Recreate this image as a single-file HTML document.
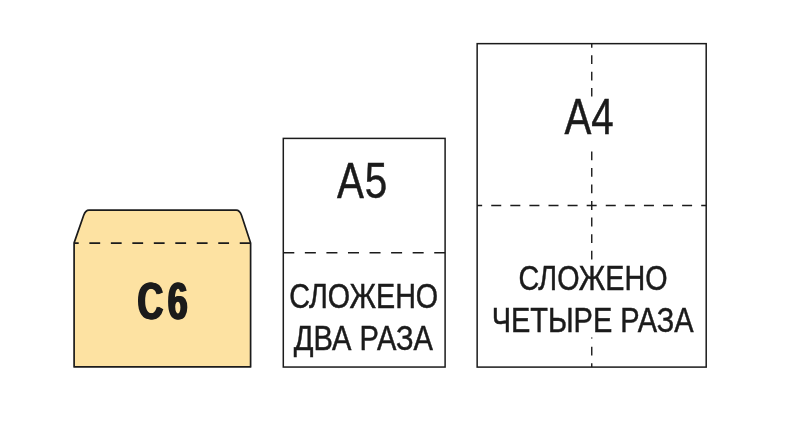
<!DOCTYPE html>
<html lang="ru">
<head>
<meta charset="utf-8">
<title>C6 / A5 / A4</title>
<style>
html,body{margin:0;padding:0;background:#fff;}
body{width:800px;height:431px;overflow:hidden;}
svg{display:block;}
text{font-family:"Liberation Sans",sans-serif;fill:#1b1b1b;}
.ln{fill:none;stroke:#1b1b1b;}
</style>
</head>
<body>
<svg width="800" height="431" viewBox="0 0 800 431">
<defs>
<filter id="f-c6" x="-10%" y="-20%" width="120%" height="140%" color-interpolation-filters="sRGB"><feOffset in="SourceGraphic" dx="-0.75" dy="0.2" result="a"/><feOffset in="SourceGraphic" dx="0.75" dy="0.2" result="b"/><feOffset in="SourceGraphic" dx="0" dy="0.2" result="c"/><feMerge><feMergeNode in="a"/><feMergeNode in="b"/><feMergeNode in="c"/></feMerge></filter>
<filter id="f-a5" x="-10%" y="-20%" width="120%" height="140%" color-interpolation-filters="sRGB"><feOffset in="SourceGraphic" dx="0" dy="-0.35"/></filter>
<filter id="f-a5l1" x="-10%" y="-20%" width="120%" height="140%" color-interpolation-filters="sRGB"><feOffset in="SourceGraphic" dx="0" dy="0.25"/></filter>
<filter id="f-a5l2" x="-10%" y="-20%" width="120%" height="140%" color-interpolation-filters="sRGB"><feOffset in="SourceGraphic" dx="0" dy="-0.25"/></filter>
<filter id="f-a4" x="-10%" y="-20%" width="120%" height="140%" color-interpolation-filters="sRGB"><feOffset in="SourceGraphic" dx="0" dy="0.1"/></filter>
<filter id="f-a4l1" x="-10%" y="-20%" width="120%" height="140%" color-interpolation-filters="sRGB"><feOffset in="SourceGraphic" dx="0" dy="0"/></filter>
<filter id="f-a4l2" x="-10%" y="-20%" width="120%" height="140%" color-interpolation-filters="sRGB"><feOffset in="SourceGraphic" dx="0" dy="-0.45"/></filter>
</defs>
<rect width="800" height="431" fill="#ffffff"/>

<!-- C6 envelope -->
<g id="c6">
<path d="M74.1 366.9 L74.1 242.9 L83.6 215.5 Q85.5 210.1 89 210.1 L236.2 210.1 Q239.7 210.1 241.5 215.3 L250.6 242.9 L250.6 366.9 Z" fill="#fde2a2" stroke="#1b1b1b" stroke-width="1.7" stroke-linejoin="round"/>
<line class="ln" x1="74.1" y1="243.05" x2="250.6" y2="243.05" stroke-width="1.7" stroke-dasharray="10.8 10.68" stroke-dashoffset="6.2"/>
<g filter="url(#f-c6)"><text transform="translate(137.55 319) scale(0.7 1)" font-size="51.1" font-weight="700" letter-spacing="6.4">C6</text></g>
</g>

<!-- A5 sheet -->
<g id="a5">
<rect class="ln" x="283.3" y="138.4" width="161.8" height="228.65" stroke-width="1.5"/>
<line class="ln" x1="283.3" y1="252.75" x2="445.1" y2="252.75" stroke-width="1.4" stroke-dasharray="11 10.56"/>
<g filter="url(#f-a5)"><text transform="translate(337.1 198) scale(0.806 1)" font-size="50" letter-spacing="1.0" stroke="#1b1b1b" stroke-width="0.5">A5</text></g>
<g filter="url(#f-a5l1)"><text transform="translate(289.22 308) scale(0.8086 1)" font-size="35.5" stroke="#1b1b1b" stroke-width="0.5">СЛОЖЕНО</text></g>
<g filter="url(#f-a5l2)"><text transform="translate(293.86 350) scale(0.8195 1)" font-size="35.5" stroke="#1b1b1b" stroke-width="0.5">ДВА РАЗА</text></g>
</g>

<!-- A4 sheet -->
<g id="a4">
<rect class="ln" x="477.15" y="43.65" width="229.05" height="323.45" stroke-width="1.5"/>
<line class="ln" x1="477.15" y1="205.45" x2="706.2" y2="205.45" stroke-width="1.4" stroke-dasharray="10 9.0875" stroke-dashoffset="5"/>
<line class="ln" x1="591.75" y1="43.65" x2="591.75" y2="96.6" stroke-width="1.4" stroke-dasharray="8.8 7.6" stroke-dashoffset="4.8"/>
<line class="ln" x1="591.75" y1="151.5" x2="591.75" y2="259.4" stroke-width="1.4" stroke-dasharray="8.8 7.73"/>
<line class="ln" x1="591.75" y1="337.6" x2="591.75" y2="367.1" stroke-width="1.4" stroke-dasharray="0.9 8.2 8.7 7.8 8.7 7.8"/>
<g filter="url(#f-a4)"><text transform="translate(564.5 134) scale(0.806 1)" font-size="50" stroke="#1b1b1b" stroke-width="0.5">A4</text></g>
<g filter="url(#f-a4l1)"><text transform="translate(518.57 290) scale(0.8089 1)" font-size="35.5" stroke="#1b1b1b" stroke-width="0.5">СЛОЖЕНО</text></g>
<g filter="url(#f-a4l2)"><text transform="translate(491.65 332) scale(0.8162 1)" font-size="35.5" stroke="#1b1b1b" stroke-width="0.5">ЧЕТЫРЕ РАЗА</text></g>
</g>
</svg>
</body>
</html>
